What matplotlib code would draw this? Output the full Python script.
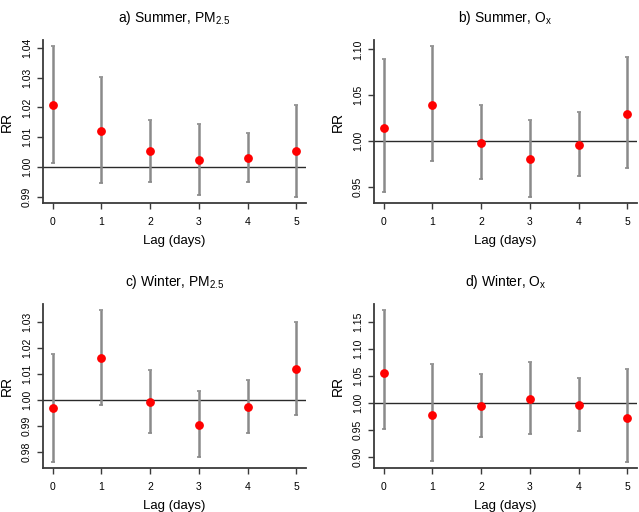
import matplotlib
matplotlib.use("Agg")
import matplotlib.pyplot as plt
import numpy as np

plt.rcParams['font.family'] = ['Liberation Sans', 'DejaVu Sans']
plt.rcParams['mathtext.fontset'] = 'custom'
plt.rcParams['mathtext.rm'] = 'Liberation Sans'
plt.rcParams['mathtext.it'] = 'Liberation Sans'
plt.rcParams['mathtext.bf'] = 'Liberation Sans'
plt.rcParams['mathtext.default'] = 'rm'

lags = [0, 1, 2, 3, 4, 5]

titles = [r"a) Summer, PM$_{2.5}$", r"b) Summer, O$_{x}$",
          r"c) Winter, PM$_{2.5}$", r"d) Winter, O$_{x}$"]

a_est = [1.0207, 1.0122, 1.0054, 1.0025, 1.0032, 1.0054]
a_lo = [1.0013, 0.9947, 0.9951, 0.9908, 0.9949, 0.9900]
a_hi = [1.0406, 1.0301, 1.0157, 1.0145, 1.0113, 1.0207]

b_est = [1.0147, 1.0392, 0.9982, 0.9806, 0.9960, 1.0299]
b_lo = [0.9446, 0.9784, 0.9586, 0.9392, 0.9622, 0.9705]
b_hi = [1.0896, 1.1036, 1.0399, 1.0230, 1.0313, 1.0917]

c_est = [0.9967, 1.0162, 0.9991, 0.9904, 0.9973, 1.0119]
c_lo = [0.9760, 0.9981, 0.9872, 0.9778, 0.9871, 0.9941]
c_hi = [1.0177, 1.0346, 1.0114, 1.0033, 1.0077, 1.0301]

d_est = [1.0550, 0.9779, 0.9933, 1.0061, 0.9957, 0.9724]
d_lo = [0.9503, 0.8920, 0.9362, 0.9423, 0.9470, 0.8900]
d_hi = [1.1720, 1.0718, 1.0540, 1.0748, 1.0460, 1.0620]

yticks = [
    [0.99, 1.00, 1.01, 1.02, 1.03, 1.04],
    [0.95, 1.00, 1.05, 1.10],
    [0.98, 0.99, 1.00, 1.01, 1.02, 1.03],
    [0.90, 0.95, 1.00, 1.05, 1.10, 1.15],
]

series = [(a_est, a_lo, a_hi), (b_est, b_lo, b_hi),
          (c_est, c_lo, c_hi), (d_est, d_lo, d_hi)]

W, H = 639, 512
fig = plt.figure(figsize=(W / 100, H / 100), dpi=100)

# axes rectangles in pixels: left, top, right, bottom
rects = [(43, 40, 306, 203), (374, 40, 637, 203),
         (43, 304, 306, 468), (374, 304, 637, 468)]

axis_col = '#3a3a3a'
for i, ((est, lo, hi), (l, t, r, b)) in enumerate(zip(series, rects)):
    ax = fig.add_axes([l / W, 1 - b / H, (r - l) / W, (b - t) / H])
    est = np.array(est); lo = np.array(lo); hi = np.array(hi)
    ymin, ymax = lo.min(), hi.max()
    pad = 0.04 * (ymax - ymin)
    ax.set_ylim(ymin - pad, ymax + pad)
    ax.set_xlim(-0.2, 5.2)
    ax.axhline(1.0, color='#2a2a2a', lw=1.0, zorder=1)
    ax.errorbar(lags, est, yerr=[est - lo, hi - est], fmt='none',
                ecolor='#8a8a8a', elinewidth=1.8, capsize=1.6, capthick=1.2,
                zorder=2)
    ax.plot(lags, est, 'o', color='#ff0000', ms=5.3, mec='#ff0000', zorder=3)
    for s in ['top', 'right']:
        ax.spines[s].set_visible(False)
    for s in ['left', 'bottom']:
        ax.spines[s].set_color(axis_col)
        ax.spines[s].set_linewidth(1.3)
    ax.set_xticks(lags)
    ax.set_xticklabels([str(x) for x in lags], fontsize=7.5)
    ax.set_yticks(yticks[i])
    ax.set_yticklabels(["%.2f" % v for v in yticks[i]], fontsize=7.5,
                       rotation=90, va='center')
    ax.tick_params(axis='x', length=4, width=1, color=axis_col, pad=6)
    ax.tick_params(axis='y', length=4, width=1, color=axis_col, pad=4)
    ax.set_xlabel("Lag (days)", fontsize=9.5, labelpad=6)
    ax.set_ylabel("RR", fontsize=10, labelpad=6)
    ax.set_title(titles[i], fontsize=10, pad=13)

fig.savefig("out.png", dpi=100)
